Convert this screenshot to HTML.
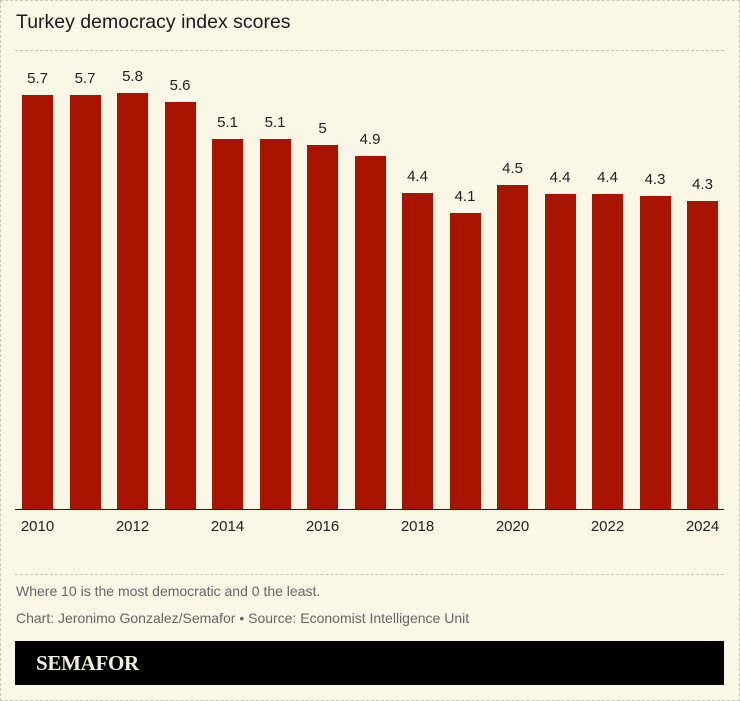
<!DOCTYPE html>
<html><head><style>
body{margin:0;background:#fbf7e6;}
#c{position:relative;width:740px;height:701px;background:#fbf7e6;font-family:"Liberation Sans",sans-serif;overflow:hidden;}
.bd{position:absolute;left:0;top:0;width:738px;height:699px;border:1px dashed #c9c6b6;}
.t{position:absolute;left:16px;top:11px;font-size:19.5px;color:#1a1a1a;}
.hl{position:absolute;left:15px;width:709px;border-top:1px dashed #c9c6b6;}
.bar{position:absolute;background:#a81400;width:31px;}
.v{position:absolute;width:50px;text-align:center;font-size:15px;color:#222;}
.x{position:absolute;width:60px;text-align:center;font-size:15px;color:#222;top:518px;}
.n{position:absolute;left:16px;font-size:14px;color:#666;}
</style></head><body><div id="c">
<div class="bd"></div>
<div class="t">Turkey democracy index scores</div>
<div class="hl" style="top:50px"></div>
<div class="hl" style="top:574px"></div>
<div style="position:absolute;left:15px;top:509px;width:709px;height:1px;background:#222"></div>
<div id="bars"></div>
<div class="n" style="top:583px">Where 10 is the most democratic and 0 the least.</div>
<div class="n" style="top:610px">Chart: Jeronimo Gonzalez/Semafor • Source: Economist Intelligence Unit</div>
<div style="position:absolute;left:15px;top:641px;width:709px;height:44px;background:#000"></div>
<div style="position:absolute;left:36px;top:651px;font-family:'Liberation Serif',serif;font-weight:bold;font-size:21px;color:#f4efdc;letter-spacing:-0.3px">SEMAFOR</div>
<script>
var tops=[95,95,93,102,139,139,145,156,193,213,185,194,194,196,201];
var vals=["5.7","5.7","5.8","5.6","5.1","5.1","5","4.9","4.4","4.1","4.5","4.4","4.4","4.3","4.3"];
var h="";
for(var i=0;i<15;i++){var x=22+i*47.5;
h+='<div class="bar" style="left:'+x+'px;top:'+tops[i]+'px;height:'+(509-tops[i])+'px"></div>';
h+='<div class="v" style="left:'+(x-9.5)+'px;top:'+(tops[i]-25)+'px">'+vals[i]+'</div>';
if(i%2==0)h+='<div class="x" style="left:'+(x-14.5)+'px">'+(2010+i)+'</div>';}
document.getElementById("bars").innerHTML=h;
</script>
</div></body></html>
